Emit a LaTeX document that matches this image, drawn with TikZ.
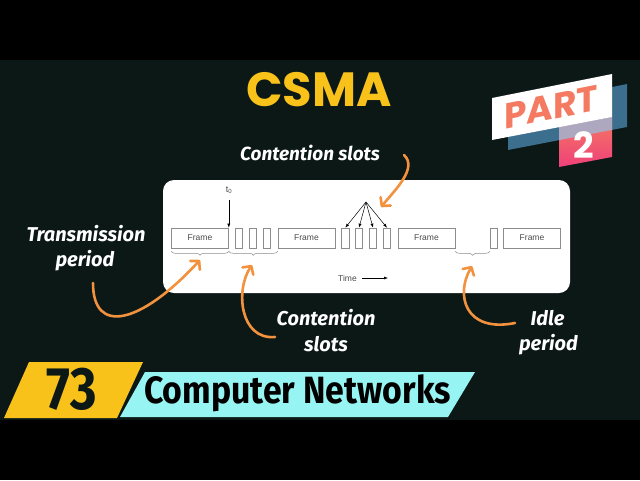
\documentclass[tikz,border=0pt]{standalone}
\usepackage{fontspec}
\usetikzlibrary{arrows.meta,decorations.pathreplacing}
\newfontfamily\handfont{Fira Sans}
\newfontfamily\panelfont{Liberation Sans}
\newfontfamily\titlefont{Poppins}
\newfontfamily\bannerfont[FakeStretch=0.85]{Fira Sans}
\newfontfamily\coursefont[FakeStretch=0.89]{Fira Sans}
\definecolor{bgteal}{HTML}{0B1816}
\definecolor{csmayellow}{HTML}{F8C21B}
\definecolor{arroworange}{HTML}{F2923E}
\definecolor{bannercyan}{HTML}{96F4F2}
\definecolor{badgeblue}{HTML}{3C6E8E}
\definecolor{badgepink}{HTML}{EF407A}
\definecolor{badgecoral}{HTML}{F47A62}
\definecolor{badgelilac}{HTML}{ADA7BF}
\definecolor{boxgrey}{HTML}{8C8C8C}
\definecolor{textgrey}{HTML}{4A4A4A}
\tikzset{
    framebox/.style={draw=boxgrey, line width=0.6pt, minimum width=57pt, minimum height=20pt, inner sep=0pt, font=\panelfont\fontsize{8.5}{8.5}\selectfont, text=textgrey},
    slotbox/.style={draw=boxgrey, line width=0.6pt, minimum width=7.5pt, minimum height=20pt, inner sep=0pt},
    panelbrace/.style={draw=boxgrey, line width=0.5pt, decorate, decoration={brace, mirror, amplitude=4pt}},
    thinarrow/.style={line width=0.5pt, -{Latex[length=4pt,width=3pt]}},
    handlabel/.style={text=white, font=\handfont\bfseries\itshape\fontsize{20}{20}\selectfont, anchor=base, inner sep=0pt},
    orangearrow/.style={draw=arroworange, line width=2.6pt, line cap=round, -{Straight Barb[round,length=6pt,width=13pt]}},
}
\begin{document}
\begin{tikzpicture}[x=1pt, y=-1pt]
    \useasboundingbox (0,0) rectangle (640,480);
    \fill[black] (0,0) rectangle (640,480);
    \fill[bgteal] (0,60) rectangle (640,420);

    \node[font=\titlefont\bfseries\fontsize{48}{48}\selectfont, text=csmayellow] (title) at (319,90) {CSMA};

    \fill[badgeblue] (508,108) -- (627,84) -- (627,127) -- (508,150) -- cycle;
    \shade[top color=badgecoral, bottom color=badgepink] (559,127) -- (612,117) -- (612,157) -- (559,167) -- cycle;
    \begin{scope}
        \clip (559,127) -- (612,117) -- (612,157) -- (559,167) -- cycle;
        \fill[badgelilac] (508,108) -- (627,84) -- (627,127) -- (508,150) -- cycle;
    \end{scope}
    \fill[white] (492,98) -- (612,74) -- (612,117) -- (492,140) -- cycle;
    \node[font=\titlefont\bfseries\fontsize{36}{36}\selectfont, text=badgecoral, yslant=0.2, transform shape] (part) at (551,107) {PART};
    \node[font=\titlefont\bfseries\fontsize{36}{36}\selectfont, text=white] (partno) at (584,145) {2};

    \fill[white, rounded corners=11pt] (163,180) rectangle (570,293);
    \node[framebox] (fr1) at (200,238) {Frame};
    \node[slotbox] (sa1) at (238.8,238) {};
    \node[slotbox] (sa2) at (252.8,238) {};
    \node[slotbox] (sa3) at (266.8,238) {};
    \node[framebox] (fr2) at (306.5,238) {Frame};
    \node[slotbox] (sb1) at (345.3,238) {};
    \node[slotbox] (sb2) at (359,238) {};
    \node[slotbox] (sb3) at (373,238) {};
    \node[slotbox] (sb4) at (387,238) {};
    \node[framebox] (fr3) at (426.5,238) {Frame};
    \node[slotbox] (sc1) at (494,238) {};
    \node[framebox] (fr4) at (532,238) {Frame};

    \node[font=\panelfont\fontsize{9}{9}\selectfont, text=textgrey, inner sep=1pt] (tzero) at (229,190) {t\textsubscript{0}};
    \draw[thinarrow] ([yshift=-5pt]tzero.south -| fr1.north east) -- (fr1.north east);
    \coordinate (fan) at (366,202);
    \draw[thinarrow] (fan) -- (sb1.north);
    \draw[thinarrow] (fan) -- (sb2.north);
    \draw[thinarrow] (fan) -- (sb3.north);
    \draw[thinarrow] (fan) -- (sb4.north);

    \draw[panelbrace] ([yshift=-3pt]fr1.south west) -- ([yshift=-3pt]fr1.south east);
    \draw[panelbrace] ([yshift=-3pt]fr1.south east) -- ([yshift=-3pt]fr2.south west);
    \draw[panelbrace] ([yshift=-3pt]fr3.south east) -- ([yshift=-3pt]sc1.south west);

    \node[font=\panelfont\fontsize{8.5}{8.5}\selectfont, text=textgrey] (time) at (347.5,278) {Time};
    \coordinate (timeend) at (388,278);
    \draw[thinarrow] ([xshift=2pt]time.east) -- (timeend);

    \node[handlabel] (trans) at (86,241.7) {Transmission};
    \node[handlabel] (transb) at (85,266.7) {period};
    \node[handlabel, font=\handfont\bfseries\itshape\fontsize{19}{19}\selectfont] (contup) at (310,160) {Contention slots};
    \node[handlabel] (contlo) at (326,325) {Contention};
    \node[handlabel] (contlob) at (326,351.7) {slots};
    \node[handlabel] (idle) at (547.5,325) {Idle};
    \node[handlabel] (idleb) at (548.5,350) {period};

    \coordinate (transstart) at (93,283);
    \coordinate (transtip) at (200,260);
    \draw[orangearrow] (transstart) .. controls (93,335) and (140,325) .. (transtip);
    \coordinate (contstart) at (275,337);
    \coordinate (conttip) at (252,265);
    \draw[orangearrow] (contstart) .. controls (240,340) and (235,290) .. (conttip);
    \coordinate (contupstart) at (404,155);
    \coordinate (contuptip) at (381,207);
    \draw[orangearrow] (contupstart) .. controls (418,168) and (395,190) .. (contuptip);
    \coordinate (idlestart) at (515,323);
    \coordinate (idletip) at (472,266);
    \draw[orangearrow] (idlestart) .. controls (465,333) and (455,295) .. (idletip);

    \fill[csmayellow] (4,418) -- (29,362) -- (143,362) -- (117,418) -- cycle;
    \fill[bannercyan] (120,417) -- (145,372) -- (475,372) -- (448,417) -- cycle;
    \node[font=\bannerfont\bfseries\fontsize{60}{60}\selectfont, text=bgteal] (num) at (72,389) {73};
    \node[font=\coursefont\bfseries\fontsize{38}{38}\selectfont, text=black, anchor=base] (course) at (297.5,403) {Computer Networks};
\end{tikzpicture}
\end{document}
